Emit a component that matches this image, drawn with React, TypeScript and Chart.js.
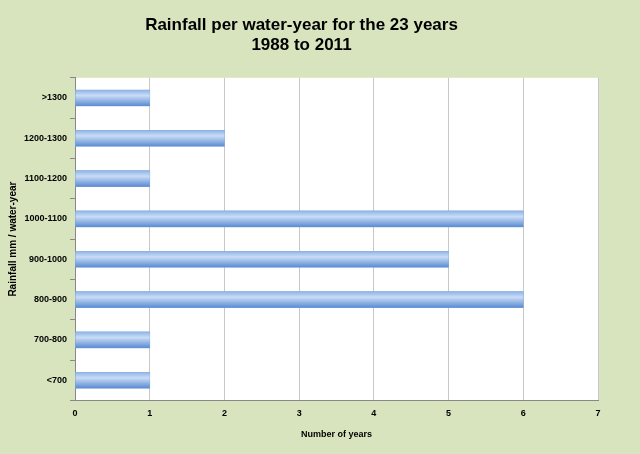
import React, { useEffect, useRef } from "react";
import { Chart, registerables } from "chart.js";

Chart.register(...registerables);

const categories = ["<700", "700-800", "800-900", "900-1000", "1000-1100", "1100-1200", "1200-1300", ">1300"];
const years = [1, 1, 6, 5, 6, 1, 2, 1];

const bg = {
    id: "bg",
    beforeDraw(chart: Chart) {
        const { ctx, chartArea: a } = chart;
        ctx.save();
        ctx.fillStyle = "#d7e4bd";
        ctx.fillRect(0, 0, chart.width, chart.height);
        ctx.fillStyle = "#ffffff";
        ctx.fillRect(a.left, a.top, a.right - a.left, a.bottom - a.top);
        ctx.restore();
    },
};

// shade each bar with a top-to-bottom gradient, like the spreadsheet style
const shade = {
    id: "shade",
    afterDatasetsDraw(chart: Chart) {
        const { ctx } = chart;
        ctx.save();
        chart.getDatasetMeta(0).data.forEach((el: any) => {
            const top = el.y - el.height / 2;
            const g = ctx.createLinearGradient(0, top, 0, top + el.height);
            g.addColorStop(0, "#8fb4e6");
            g.addColorStop(0.35, "#c9dcf6");
            g.addColorStop(1, "#5a8bd2");
            ctx.fillStyle = g;
            ctx.fillRect(el.base, top, el.x - el.base, el.height);
        });
        ctx.restore();
    },
};

export default function App() {
    const ref = useRef<HTMLCanvasElement | null>(null);

    useEffect(() => {
        document.body.style.margin = "0";
        if (!ref.current) return;
        const chart = new Chart(ref.current, {
            type: "bar",
            data: {
                labels: categories,
                datasets: [{ data: years, barThickness: 16, backgroundColor: "#7fa9e0" }],
            },
            options: {
                indexAxis: "y",
                animation: false,
                responsive: false,
                layout: { padding: { left: 5, right: 42, top: 4, bottom: 12 } },
                plugins: {
                    legend: { display: false },
                    tooltip: { enabled: false },
                    title: {
                        display: true,
                        text: ["Rainfall per water-year for the 23 years", "1988 to 2011"],
                        color: "#000",
                        font: { family: "Liberation Sans", size: 17, weight: "bold" },
                        padding: { top: 11, bottom: 22 },
                    },
                },
                scales: {
                    x: {
                        min: 0,
                        max: 7,
                        ticks: { stepSize: 1, padding: 8, color: "#000", font: { family: "Liberation Sans", size: 9, weight: "bold" } },
                        grid: { color: "#c8c8c8", drawTicks: false },
                        border: { color: "#888" },
                        title: { display: true, text: "Number of years", color: "#000", font: { family: "Liberation Sans", size: 9, weight: "bold" }, padding: 2 },
                    },
                    y: {
                        reverse: true,
                        ticks: { color: "#000", font: { family: "Liberation Sans", size: 9, weight: "bold" } },
                        grid: { display: true, drawOnChartArea: false, offset: true, color: "#888", tickLength: 5 },
                        border: { color: "#888" },
                        title: { display: true, text: "Rainfall mm / water-year", color: "#000", font: { family: "Liberation Sans", size: 10, weight: "bold" }, padding: 2 },
                    },
                },
            },
            plugins: [bg, shade],
        });
        return () => chart.destroy();
    }, []);

    return <canvas ref={ref} width={640} height={454} />;
}
